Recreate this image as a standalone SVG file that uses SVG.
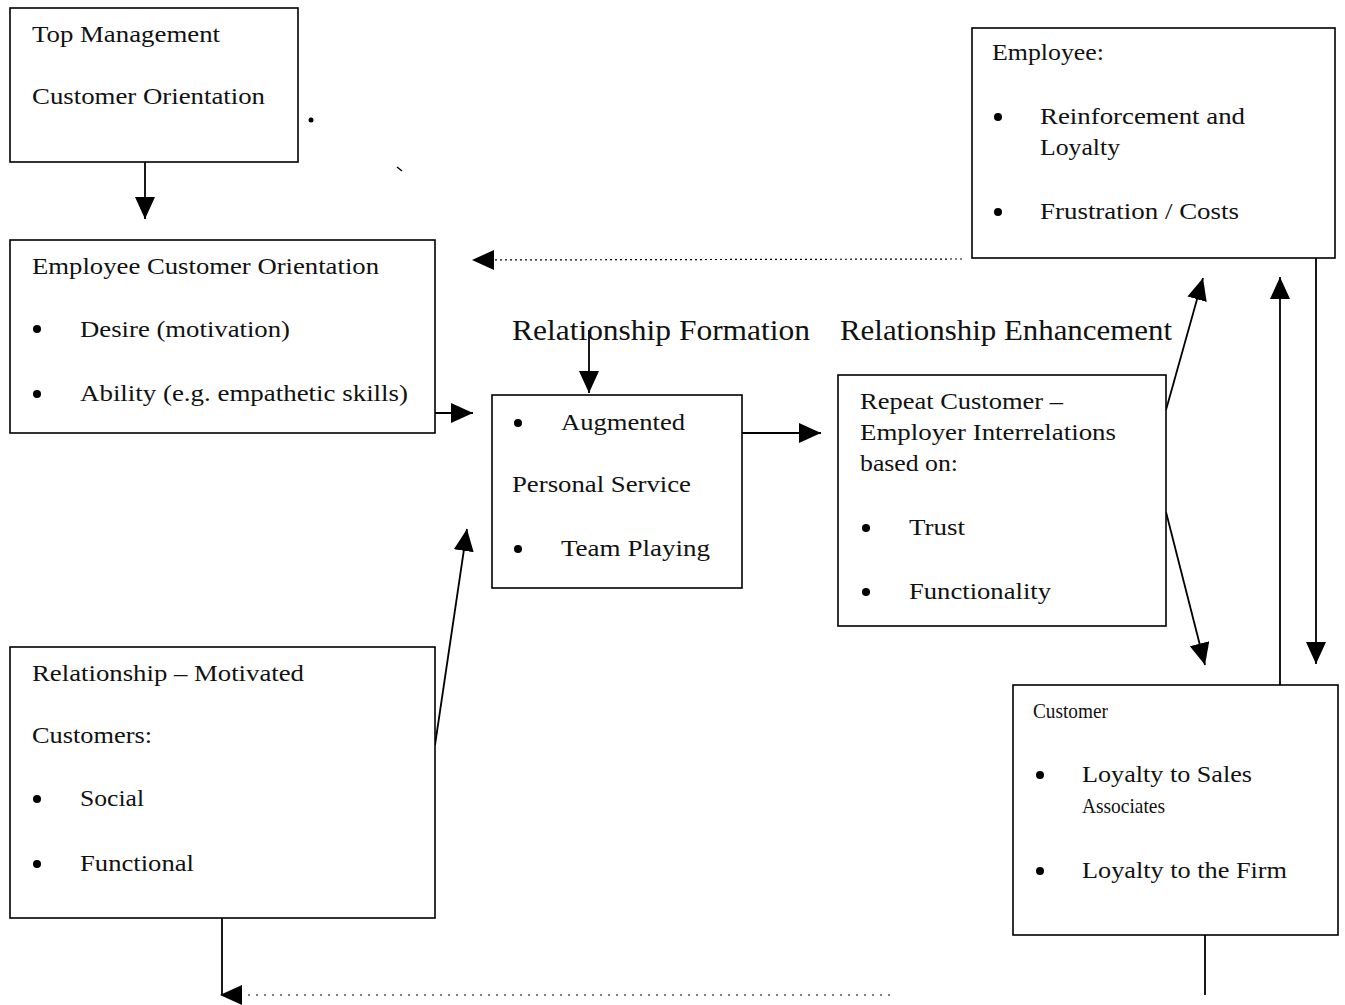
<svg xmlns="http://www.w3.org/2000/svg" width="1345" height="1005" viewBox="0 0 1345 1005">
  <style>
    .box { fill: #fff; stroke: #000; stroke-width: 1.6; }
    .t { font-family: "Liberation Serif", "Times New Roman", serif; font-size: 24px; fill: #111; }
    .h { font-family: "Liberation Serif", "Times New Roman", serif; font-size: 29px; fill: #111; }
    .ln { fill: none; stroke: #000; stroke-width: 1.8; }
    .dot { fill: none; stroke: #000; stroke-width: 1.2; stroke-dasharray: 2 3; }
    .sparse { fill: none; stroke: #000; stroke-width: 1.2; stroke-dasharray: 2 6; }
    .b { fill: #000; }
  </style>
  <defs>
    <marker id="ah" markerUnits="userSpaceOnUse" markerWidth="24" markerHeight="22" refX="22" refY="10" orient="auto">
      <path d="M0,0 L22,10 L0,20 Z" fill="#000"/>
    </marker>
  </defs>
  <rect width="1345" height="1005" fill="#fff"/>

  <!-- connectors -->
  <g id="connectors">
    <line class="ln" x1="145" y1="162" x2="145" y2="219" marker-end="url(#ah)"/>
    <line class="ln" x1="435" y1="413" x2="473" y2="413" marker-end="url(#ah)"/>
    <line class="ln" x1="589" y1="330" x2="589" y2="393" marker-end="url(#ah)"/>
    <line class="ln" x1="742" y1="433" x2="821" y2="433" marker-end="url(#ah)"/>
    <line class="dot" x1="962" y1="259" x2="472" y2="260" marker-end="url(#ah)"/>
    <line class="ln" x1="1166" y1="410" x2="1203" y2="278" marker-end="url(#ah)"/>
    <line class="ln" x1="1166" y1="512" x2="1205" y2="665" marker-end="url(#ah)"/>
    <line class="ln" x1="1280" y1="685" x2="1280" y2="277" marker-end="url(#ah)"/>
    <line class="ln" x1="1316" y1="258" x2="1316" y2="664" marker-end="url(#ah)"/>
    <line class="ln" x1="435" y1="745" x2="467" y2="529" marker-end="url(#ah)"/>
    <line class="ln" x1="1205" y1="935" x2="1205" y2="995"/>
    <line class="ln" x1="222" y1="918" x2="222" y2="995"/>
    <line class="sparse" x1="890" y1="995" x2="220" y2="995" marker-end="url(#ah)"/>
    <!-- small stray marks -->
    <circle cx="311" cy="120" r="2.5" fill="#000"/>
    <line x1="397" y1="167" x2="402" y2="171" stroke="#000" stroke-width="1.5"/>
    <line x1="23" y1="810" x2="21" y2="815" stroke="#000" stroke-width="1.5"/>
  </g>

  <g id="top-management">
    <rect class="box" x="10" y="8" width="288" height="154"/>
    <text class="t" x="32" y="42" textLength="188" lengthAdjust="spacingAndGlyphs">Top Management</text>
    <text class="t" x="32" y="104" textLength="233" lengthAdjust="spacingAndGlyphs">Customer Orientation</text>
  </g>

  <g id="employee-orientation">
    <rect class="box" x="10" y="240" width="425" height="193"/>
    <text class="t" x="32" y="274" textLength="347" lengthAdjust="spacingAndGlyphs">Employee Customer Orientation</text>
    <circle class="b" cx="37" cy="329" r="4"/>
    <text class="t" x="80" y="337" textLength="210" lengthAdjust="spacingAndGlyphs">Desire (motivation)</text>
    <circle class="b" cx="37" cy="394" r="4"/>
    <text class="t" x="80" y="401" textLength="328" lengthAdjust="spacingAndGlyphs">Ability (e.g. empathetic skills)</text>
  </g>

  <g id="stage-labels">
    <text class="h" x="512" y="340" textLength="298" lengthAdjust="spacingAndGlyphs">Relationship Formation</text>
    <text class="h" x="840" y="340" textLength="332" lengthAdjust="spacingAndGlyphs">Relationship Enhancement</text>
  </g>

  <g id="personal-service">
    <rect class="box" x="492" y="395" width="250" height="193"/>
    <circle class="b" cx="518" cy="423" r="4"/>
    <text class="t" x="561" y="430" textLength="124" lengthAdjust="spacingAndGlyphs">Augmented</text>
    <text class="t" x="512" y="492" textLength="179" lengthAdjust="spacingAndGlyphs">Personal Service</text>
    <circle class="b" cx="518" cy="549" r="4"/>
    <text class="t" x="561" y="556" textLength="149" lengthAdjust="spacingAndGlyphs">Team Playing</text>
  </g>

  <g id="repeat-customer">
    <rect class="box" x="838" y="375" width="328" height="251"/>
    <text class="t" x="860" y="409" textLength="203" lengthAdjust="spacingAndGlyphs">Repeat Customer –</text>
    <text class="t" x="860" y="440" textLength="256" lengthAdjust="spacingAndGlyphs">Employer Interrelations</text>
    <text class="t" x="860" y="471" textLength="98" lengthAdjust="spacingAndGlyphs">based on:</text>
    <circle class="b" cx="866" cy="528" r="4"/>
    <text class="t" x="909" y="535" textLength="56" lengthAdjust="spacingAndGlyphs">Trust</text>
    <circle class="b" cx="866" cy="592" r="4"/>
    <text class="t" x="909" y="599" textLength="142" lengthAdjust="spacingAndGlyphs">Functionality</text>
  </g>

  <g id="employee">
    <rect class="box" x="972" y="28" width="363" height="230"/>
    <text class="t" x="992" y="60" textLength="112" lengthAdjust="spacingAndGlyphs">Employee:</text>
    <circle class="b" cx="998" cy="117" r="4"/>
    <text class="t" x="1040" y="124" textLength="205" lengthAdjust="spacingAndGlyphs">Reinforcement and</text>
    <text class="t" x="1040" y="155" textLength="80" lengthAdjust="spacingAndGlyphs">Loyalty</text>
    <circle class="b" cx="998" cy="212" r="4"/>
    <text class="t" x="1040" y="219" textLength="199" lengthAdjust="spacingAndGlyphs">Frustration / Costs</text>
  </g>

  <g id="customer">
    <rect class="box" x="1013" y="685" width="325" height="250"/>
    <text class="t" x="1033" y="718" style="font-size:22px" textLength="75" lengthAdjust="spacingAndGlyphs">Customer</text>
    <circle class="b" cx="1040" cy="775" r="4"/>
    <text class="t" x="1082" y="782" textLength="170" lengthAdjust="spacingAndGlyphs">Loyalty to Sales</text>
    <text class="t" x="1082" y="813" style="font-size:22px" textLength="83" lengthAdjust="spacingAndGlyphs">Associates</text>
    <circle class="b" cx="1040" cy="871" r="4"/>
    <text class="t" x="1082" y="878" textLength="205" lengthAdjust="spacingAndGlyphs">Loyalty to the Firm</text>
  </g>

  <g id="motivated-customers">
    <rect class="box" x="10" y="647" width="425" height="271"/>
    <text class="t" x="32" y="681" textLength="272" lengthAdjust="spacingAndGlyphs">Relationship – Motivated</text>
    <text class="t" x="32" y="743" textLength="120" lengthAdjust="spacingAndGlyphs">Customers:</text>
    <circle class="b" cx="37" cy="799" r="4"/>
    <text class="t" x="80" y="806" textLength="64" lengthAdjust="spacingAndGlyphs">Social</text>
    <circle class="b" cx="37" cy="864" r="4"/>
    <text class="t" x="80" y="871" textLength="114" lengthAdjust="spacingAndGlyphs">Functional</text>
  </g>
</svg>
